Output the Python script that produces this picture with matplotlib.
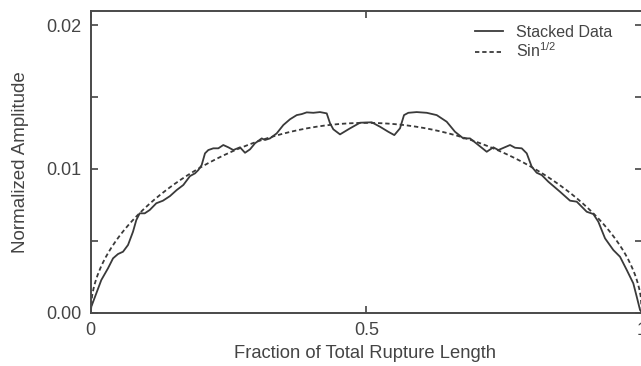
import numpy as np
import matplotlib
matplotlib.use('Agg')
import matplotlib.pyplot as plt
from matplotlib.ticker import MultipleLocator

plt.rcParams['font.family'] = ['Liberation Sans', 'DejaVu Sans']
plt.rcParams['mathtext.default'] = 'regular'

# stacked amplitude
frac = [0.0, 0.0011, 0.0102, 0.0192, 0.0314, 0.0405, 0.0495, 0.0586, 0.0677, 0.0767,
        0.0827, 0.0889, 0.0980, 0.1070, 0.1190, 0.1311, 0.1438, 0.1560, 0.1680, 0.1801,
        0.1892, 0.1952, 0.2013, 0.2073, 0.2133, 0.2224, 0.2315, 0.2405, 0.2496, 0.2587,
        0.2708, 0.2799, 0.2890, 0.2980, 0.3102, 0.3162, 0.3252, 0.3374, 0.3494, 0.3615,
        0.3737, 0.3827, 0.3918, 0.4038, 0.4159, 0.4281, 0.4341, 0.4401, 0.4522, 0.4704,
        0.4885, 0.5097, 0.5248, 0.5398, 0.5507, 0.5610, 0.5683, 0.5761, 0.5913, 0.6095,
        0.6276, 0.6457, 0.6608, 0.6759, 0.6880, 0.7031, 0.7183, 0.7303, 0.7394, 0.7606,
        0.7696, 0.7818, 0.7909, 0.7999, 0.8090, 0.8181, 0.8300, 0.8513, 0.8694, 0.8816,
        0.8997, 0.9117, 0.9207, 0.9329, 0.9479, 0.9601, 0.9723, 0.9842, 0.9904, 0.9964,
        1.0]
amp = [0.0, 0.00042, 0.00135, 0.00227, 0.00309, 0.00378, 0.00408, 0.00424, 0.00471, 0.00563,
       0.00644, 0.00691, 0.00691, 0.00714, 0.00761, 0.00779, 0.00811, 0.00853, 0.00888, 0.00950,
       0.00969, 0.00992, 0.01027, 0.01108, 0.01131, 0.01143, 0.01143, 0.01166, 0.01150, 0.01131,
       0.01150, 0.01112, 0.01136, 0.01178, 0.01212, 0.01201, 0.01212, 0.01247, 0.01305, 0.01345,
       0.01374, 0.01381, 0.01393, 0.01390, 0.01395, 0.01386, 0.01317, 0.01275, 0.01240, 0.01282,
       0.01321, 0.01324, 0.01293, 0.01258, 0.01235, 0.01282, 0.01374, 0.01390, 0.01395, 0.01390,
       0.01374, 0.01328, 0.01258, 0.01212, 0.01212, 0.01166, 0.01119, 0.01150, 0.01131, 0.01166,
       0.01147, 0.01143, 0.01108, 0.01015, 0.00973, 0.00957, 0.00911, 0.00841, 0.00779, 0.00772,
       0.00702, 0.00686, 0.00633, 0.00517, 0.00436, 0.00389, 0.00297, 0.00204, 0.00111, 0.00019,
       0.0]

# model curve: peak * sqrt(sin(pi x))
sin_peak = 0.0132

xticks = [0, 0.5, 1]
xticklabels = ['0', '0.5', '1']
yticks = [0.0, 0.01, 0.02]
yticklabels = ['0.00', '0.01', '0.02']

ink = '#3a3a3a'
txt = '#444444'

fig = plt.figure(figsize=(6.41, 3.66), dpi=100)
ax = fig.add_axes([0.1415, 0.1456, 0.8601, 0.8252])

ax.plot(frac, amp, color=ink, lw=1.3, label='Stacked Data')
xs = np.linspace(0, 1, 400)
ax.plot(xs, sin_peak * np.sqrt(np.clip(np.sin(np.pi * xs), 0, None)), color=ink, lw=1.3,
        linestyle=(0, (2.4, 1.6)), label=r'Sin$^{1/2}$')

ax.set_xlim(0, 1)
ax.set_ylim(0, 0.021)
ax.set_xticks(xticks)
ax.set_xticklabels(xticklabels)
ax.set_yticks(yticks)
ax.set_yticklabels(yticklabels)
ax.yaxis.set_minor_locator(MultipleLocator(0.005))

ax.tick_params(which='both', direction='in', right=True, top=True, color=txt, width=1.2,
               labelcolor=txt, labelsize=13, pad=6.5)
ax.tick_params(which='major', length=5)
ax.tick_params(which='minor', length=5)
for s in ax.spines.values():
    s.set_color('#4a4a4a')
    s.set_linewidth(1.4)

ax.set_xlabel('Fraction of Total Rupture Length', fontsize=13.2, color=txt)
ax.set_ylabel('Normalized Amplitude', fontsize=13.5, color=txt)
ax.xaxis.set_label_coords(0.497, -0.108)
ax.yaxis.set_label_coords(-0.112, 0.5)

ax.legend(loc='upper left', bbox_to_anchor=(475 / 641, 1 - 25 / 366), bbox_transform=fig.transFigure,
          frameon=False, fontsize=11.5, labelcolor=txt, handlelength=1.75, handletextpad=0.8,
          borderpad=0, borderaxespad=0, labelspacing=0.1)

fig.savefig('out.png', dpi=100)
